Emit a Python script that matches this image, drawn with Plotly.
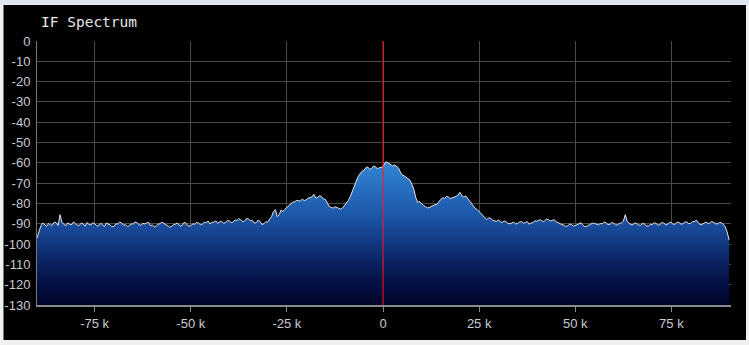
import plotly.graph_objects as go

# Frequency offset in kHz, 0.5 kHz bins across the IF passband
freq_khz = [i * 0.5 for i in range(-180, 181)]

# Power level in dB at each bin (10 bins per row = 5 kHz)
power_db = [
    -97.0, -93.5, -91.0, -89.6, -90.5, -91.3, -89.8, -90.7, -90.6, -89.2,  # -90
    -89.5, -90.8, -85.5, -89.4, -90.2, -91.0, -89.6, -90.3, -90.4, -89.1,  # -85
    -89.9, -90.7, -90.8, -89.6, -90.1, -91.2, -89.4, -90.3, -90.6, -89.5,  # -80
    -90.0, -90.9, -91.0, -89.8, -90.3, -91.4, -89.7, -90.2, -90.5, -91.5,  # -75
    -91.2, -90.1, -90.0, -89.2, -89.6, -90.7, -90.4, -91.3, -91.0, -90.0,  # -70
    -90.2, -89.1, -89.5, -90.4, -90.8, -89.8, -90.1, -89.6, -89.3, -90.9,  # -65
    -90.6, -91.5, -91.1, -90.2, -90.0, -89.2, -89.7, -90.4, -90.9, -91.6,  # -60
    -91.3, -90.4, -90.2, -89.6, -90.7, -91.2, -89.8, -89.3, -90.5, -91.1,  # -55
    -91.0, -90.0, -90.3, -89.4, -89.6, -90.5, -90.2, -89.3, -89.4, -88.7,  # -50
    -90.1, -89.3, -89.2, -88.6, -89.8, -89.0, -88.9, -89.7, -89.5, -88.3,  # -45
    -88.6, -89.4, -89.2, -88.1, -88.4, -87.5, -88.0, -88.9, -88.7, -87.4,  # -40
    -87.6, -88.5, -88.3, -89.6, -89.5, -88.2, -88.8, -90.4, -90.0, -89.0,  # -35
    -89.2, -88.0, -86.5, -84.0, -83.0, -86.5, -85.5, -83.2, -84.0, -82.8,  # -30
    -82.0, -81.0, -80.5, -79.4, -79.2, -78.5, -78.6, -78.9, -77.8, -78.6,  # -25
    -78.2, -77.4, -77.2, -76.8, -75.5, -77.4, -77.0, -76.2, -76.6, -77.8,  # -20
    -78.0, -80.2, -81.5, -81.9, -82.3, -81.6, -82.0, -82.6, -82.8, -82.1,  # -15
    -81.0, -80.0, -78.5, -76.5, -74.0, -71.0, -68.5, -66.8, -65.5, -64.2,  # -10
    -63.8, -62.4, -62.0, -63.2, -62.8, -61.6, -61.8, -62.9, -62.4, -62.2,  # -5
    -62.0, -60.0, -59.5, -60.2, -60.8, -61.5, -61.0, -61.8, -62.5, -64.5,  # 0
    -66.0, -66.4, -67.0, -67.5, -68.5, -70.5, -73.0, -77.0, -79.5, -79.0,  # 5
    -80.2, -81.0, -81.5, -82.2, -82.0, -81.4, -81.2, -80.6, -80.5, -79.0,  # 10
    -78.0, -77.2, -77.5, -76.6, -76.8, -77.6, -77.3, -76.9, -76.5, -75.8,  # 15
    -74.5, -76.2, -76.8, -76.3, -77.5, -78.6, -80.0, -81.0, -82.5, -83.0,  # 20
    -84.0, -85.2, -86.0, -87.2, -88.0, -87.0, -87.4, -88.2, -88.6, -88.9,  # 25
    -88.0, -89.0, -89.3, -88.6, -89.0, -89.8, -90.0, -89.4, -89.2, -90.1,  # 30
    -89.8, -89.1, -88.9, -89.7, -89.5, -88.9, -90.2, -89.6, -89.4, -88.5,  # 35
    -88.8, -88.2, -88.0, -88.9, -88.6, -87.7, -87.9, -88.7, -88.4, -88.0,  # 40
    -88.9, -89.5, -89.8, -90.4, -90.6, -91.3, -91.0, -90.2, -90.4, -91.1,  # 45
    -90.9, -90.3, -90.1, -89.5, -90.7, -91.4, -91.2, -90.6, -90.3, -89.7,  # 50
    -89.8, -90.4, -90.6, -89.9, -90.0, -89.2, -89.5, -90.4, -90.3, -89.4,  # 55
    -89.7, -90.6, -90.5, -89.8, -89.6, -88.8, -85.5, -88.9, -89.8, -90.5,  # 60
    -90.4, -89.5, -89.9, -90.6, -90.8, -89.7, -90.2, -91.0, -91.1, -90.3,  # 65
    -90.4, -89.5, -89.8, -90.7, -90.5, -89.4, -89.6, -90.5, -90.2, -89.3,  # 70
    -89.5, -90.3, -90.1, -89.2, -89.4, -90.2, -90.0, -89.1, -89.2, -89.9,  # 75
    -89.8, -88.9, -88.9, -88.2, -89.6, -90.4, -90.3, -89.5, -89.1, -89.8,  # 80
    -89.7, -88.8, -89.3, -90.0, -90.0, -89.4, -89.5, -90.2, -91.5, -94.0,  # 85
    -98.0,                                                                 # 90
]

floor_db = -130

x_tick_vals = [-75, -50, -25, 0, 25, 50, 75]
x_tick_text = ["-75 k", "-50 k", "-25 k", "0", "25 k", "50 k", "75 k"]
y_tick_vals = list(range(0, -131, -10))
y_tick_text = [str(v) for v in y_tick_vals]

W, H = 749, 345
ML, MR, MT, MB = 37, 18, 41, 40
PW, PH = W - ML - MR, H - MT - MB


def px_x(p):
    return (p - ML) / PW


def px_y(p):
    return (H - MB - p) / PH


fig = go.Figure()

# invisible floor the spectrum fill closes against
fig.add_trace(go.Scatter(
    x=freq_khz, y=[floor_db] * len(freq_khz),
    mode="lines", line=dict(width=0, color="rgba(0,0,0,0)"),
    hoverinfo="skip", showlegend=False,
))

fig.add_trace(go.Scatter(
    x=freq_khz, y=power_db,
    mode="lines",
    line=dict(color="#e4e4e4", width=1),
    fill="tonexty",
    fillgradient=dict(
        type="vertical",
        start=floor_db,
        stop=-58,
        colorscale=[
            [0.0, "#00042a"],
            [0.15, "#040f45"],
            [0.30, "#0b2462"],
            [0.45, "#143c88"],
            [0.60, "#1c56a6"],
            [0.78, "#266cbf"],
            [1.0, "#3588d6"],
        ],
    ),
    showlegend=False,
))

# centre frequency marker, drawn over the spectrum
fig.add_trace(go.Scatter(
    x=[0, 0], y=[floor_db, 0],
    mode="lines", line=dict(color="#ff1a1a", width=1),
    hoverinfo="skip", showlegend=False,
))

shapes = [
    # light window frame and black panel
    dict(type="rect", xref="paper", yref="paper",
         x0=px_x(0), x1=px_x(W), y0=px_y(0), y1=px_y(4.5),
         fillcolor="#dde5ee", line_width=0, layer="below"),
    dict(type="rect", xref="paper", yref="paper",
         x0=px_x(3.5), x1=px_x(746), y0=px_y(5), y1=px_y(340),
         fillcolor="#000000", line_width=0, layer="below"),
]

fig.update_layout(
    width=W, height=H,
    margin=dict(l=ML, r=MR, t=MT, b=MB, pad=0, autoexpand=False),
    paper_bgcolor="#f0f0f0",
    plot_bgcolor="#000000",
    shapes=shapes,
    annotations=[dict(
        text="IF Spectrum", xref="paper", yref="paper",
        x=px_x(39), y=px_y(22), xanchor="left", yanchor="middle",
        showarrow=False,
        font=dict(family="DejaVu Sans Mono", size=14.5, color="#e8e8e8"),
    )],
    xaxis=dict(
        range=[-90, 90.5],
        tickvals=x_tick_vals, ticktext=x_tick_text,
        showgrid=True, gridcolor="#4a4a4a", gridwidth=1,
        zeroline=False, automargin=False,
        showline=True, linecolor="#8a8a8a", linewidth=2,
        ticks="outside", ticklen=5, tickcolor="#8a8a8a", tickwidth=1,
        tickfont=dict(family="Liberation Sans", size=13, color="#c8ccd0"),
        fixedrange=True,
    ),
    yaxis=dict(
        range=[floor_db, 0],
        tickvals=y_tick_vals, ticktext=y_tick_text,
        showgrid=True, gridcolor="#4a4a4a", gridwidth=1,
        zeroline=False, automargin=False,
        showline=True, linecolor="#7a7a7a", linewidth=1,
        ticks="", ticklabelstandoff=3,
        tickfont=dict(family="Liberation Sans", size=13, color="#c8ccd0"),
        fixedrange=True,
    ),
)

fig.write_html("out.html")
